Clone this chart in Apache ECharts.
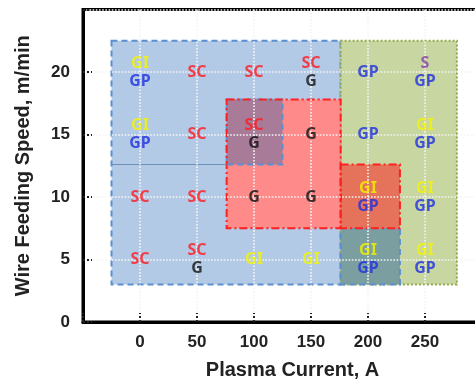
<!DOCTYPE html>
<html>
<head>
<meta charset="utf-8">
<script src="https://cdn.jsdelivr.net/npm/echarts@6/dist/echarts.min.js"></script>
<style>html,body{margin:0;padding:0;background:#fff}#c{width:475px;height:383px}</style>
</head>
<body>
<div id="c"></div>
<script>
// ---- data ----
const xTickLabels = [0, 50, 100, 150, 200, 250];
const yTickLabels = [0, 5, 10, 15, 20];
const currents = [0, 50, 100, 150, 200, 250];
const speeds = [5, 10, 15, 20];
const labelsAt5  = [['SC'], ['SC', 'G'], ['GI'], ['GI'], ['GI', 'GP'], ['GI', 'GP']];
const labelsAt10 = [['SC'], ['SC'], ['G'], ['G'], ['GI', 'GP'], ['GI', 'GP']];
const labelsAt15 = [['GI', 'GP'], ['SC'], ['SC', 'G'], ['G'], ['GP'], ['GI', 'GP']];
const labelsAt20 = [['GI', 'GP'], ['SC'], ['SC'], ['SC', 'G'], ['GP'], ['S', 'GP']];
const labelRows = [labelsAt5, labelsAt10, labelsAt15, labelsAt20];

// regions: [xMin, yMin, xMax, yMax]
const regionNames = ['blue', 'green', 'redFill', 'purple', 'teal', 'orange', 'redBorder'];
const regionBounds = [
  [-25, 3, 176, 22.5],
  [176, 3, 278, 22.5],
  [76, 7.5, 176, 17.8],
  [76, 12.6, 125, 17.8],
  [176, 3, 228, 7.5],
  [176, 7.5, 228, 12.6],
  [76, 7.5, 176, 17.8]
];
const dividerLine = [[-25, 12.6], [76, 12.6]];

// ---- styles ----
const regionStyles = {
  blue:      { fill: '#b3cae6', stroke: '#5b8fd0', lineWidth: 2, lineDash: [6, 4] },
  green:     { fill: '#c8d6a2', stroke: '#98a84e', lineWidth: 2, lineDash: [2, 2] },
  redFill:   { fill: '#ff8a8a', stroke: null, lineWidth: 0 },
  purple:    { fill: '#a87b98', stroke: '#5b8fd0', lineWidth: 2, lineDash: [6, 4] },
  teal:      { fill: '#7b9ea0', stroke: '#5b8fd0', lineWidth: 2, lineDash: [6, 4] },
  orange:    { fill: '#e5725a', stroke: '#ff2020', lineWidth: 2, lineDash: [8, 3, 2, 3] },
  redBorder: { fill: null, stroke: '#ff2020', lineWidth: 2, lineDash: [8, 3, 2, 3] }
};
const tokenColors = { SC: '#ff1a22', GI: '#f4f400', GP: '#1f2fe0', G: '#111111', S: '#8a40a8' };

const regionData = regionBounds.map((b, i) => b.concat([i]));
const labelData = [];
speeds.forEach((s, r) => currents.forEach((c, k) => labelData.push([c, s, r, k])));

const rich = {};
Object.keys(tokenColors).forEach(t => {
  rich[t] = { color: tokenColors[t], fontSize: 16, fontWeight: 'bold', lineHeight: 18, fontFamily: 'Noto Sans' };
});

const chart = echarts.init(document.getElementById('c'), null, { renderer: 'canvas' });
const axisFont = 'Liberation Sans';
const tickStyle = { type: [2, 2], color: '#222', width: 2 };
chart.setOption({
  animation: false,
  grid: { left: 83, top: 9.5, width: 399, bottom: 61, show: true, borderColor: '#000', borderWidth: 3,
    backgroundColor: 'transparent', outerBoundsMode: 'none', containLabel: false },
  xAxis: {
    type: 'value', min: -50, max: 300, interval: 50, z: 3,
    name: 'Plasma Current, A', nameLocation: 'middle', nameGap: 38,
    nameTextStyle: { fontSize: 20, fontWeight: 'bold', color: '#222', fontFamily: axisFont, padding: [0, 0, 0, 20] },
    axisLine: { onZero: false, lineStyle: { color: '#000', width: 3 } },
    axisTick: { inside: true, length: 9, lineStyle: tickStyle },
    axisLabel: { fontSize: 17, fontWeight: 'bold', color: '#222', margin: 12, fontFamily: axisFont,
      formatter: v => xTickLabels.includes(v) ? String(v) : '' },
    splitLine: { show: true, lineStyle: { color: '#f4f4f4', type: 'dotted', width: 1.6 } }
  },
  yAxis: {
    type: 'value', min: 0, max: 25, interval: 5, z: 3,
    name: 'Wire Feeding Speed, m/min', nameLocation: 'middle', nameGap: 50,
    nameTextStyle: { fontSize: 20, fontWeight: 'bold', color: '#222', fontFamily: axisFont },
    axisLine: { onZero: false, lineStyle: { color: '#000', width: 3 } },
    axisTick: { inside: true, length: 9, lineStyle: tickStyle },
    axisLabel: { fontSize: 17, fontWeight: 'bold', color: '#222', margin: 13, fontFamily: axisFont,
      formatter: v => yTickLabels.includes(v) ? String(v) : '' },
    splitLine: { show: true, lineStyle: { color: '#f4f4f4', type: 'dotted', width: 1.6 } }
  },
  series: [
    {
      type: 'custom', z: 1, silent: true,
      data: regionData,
      renderItem: (params, api) => {
        const st = regionStyles[regionNames[api.value(4)]];
        const p0 = api.coord([api.value(0), api.value(3)]);
        const p1 = api.coord([api.value(2), api.value(1)]);
        return {
          type: 'rect',
          shape: { x: p0[0], y: p0[1], width: p1[0] - p0[0], height: p1[1] - p0[1] },
          style: { fill: st.fill || 'none', stroke: st.stroke || 'none', lineWidth: st.lineWidth, lineDash: st.lineDash || null }
        };
      }
    },
    {
      type: 'line', z: 1, silent: true, symbol: 'none',
      data: dividerLine,
      lineStyle: { color: '#6f8fb8', width: 1 }
    },
    {
      type: 'scatter', z: 10, silent: true, symbolSize: 1,
      itemStyle: { color: 'rgba(0,0,0,0)' },
      data: labelData,
      label: {
        show: true, position: 'inside',
        formatter: p => labelRows[p.value[2]][p.value[3]].map(t => '{' + t + '|' + t + '}').join('\n'),
        rich: rich
      }
    }
  ]
});
</script>
</body>
</html>
